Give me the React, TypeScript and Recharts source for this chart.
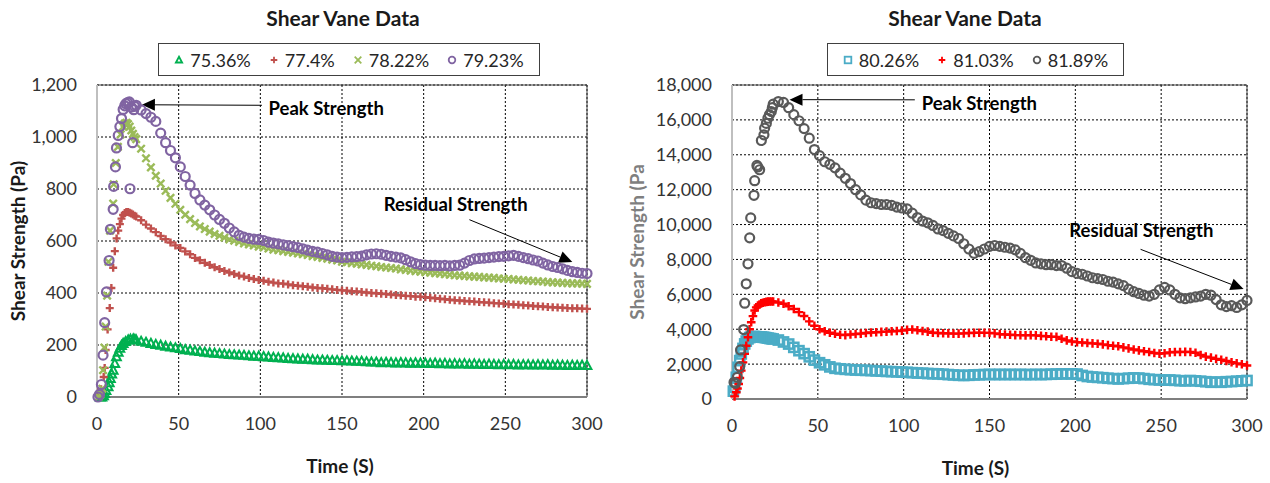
import React from "react";
import {
  ScatterChart,
  Scatter,
  XAxis,
  YAxis,
  CartesianGrid,
  ReferenceLine,
  ReferenceDot,
} from "recharts";

const FONT = "Lato, 'Open Sans', sans-serif";

// shared sampling times (s) after the first ~24 s
const timeGrid = [
  24, 27, 30, 33, 36, 39, 42, 45, 48, 51, 54, 57, 60, 63, 66, 69, 72, 75, 78, 81,
  84, 87, 90, 93, 96, 99, 102, 105, 108, 111, 114, 117, 120, 123, 126, 129, 132,
  135, 138, 141, 144, 147, 150, 153, 156, 159, 162, 165, 168, 171, 174, 177, 180,
  183, 186, 189, 192, 195, 198, 201, 204, 207, 210, 213, 216, 219, 222, 225, 228,
  231, 234, 237, 240, 243, 246, 249, 252, 255, 258, 261, 264, 267, 270, 273, 276,
  279, 282, 285, 288, 291, 294, 297, 300,
];

const xTicks = [0, 50, 100, 150, 200, 250, 300];
const yTicksLeft = [0, 200, 400, 600, 800, 1000, 1200];
const yTicksRight = [0, 2000, 4000, 6000, 8000, 10000, 12000, 14000, 16000, 18000];

// ---- left chart (Pa) ----
const early7536: [number, number][] = [
  [2, 0], [3, 0], [4, 5], [4.7, 13], [5.5, 25], [6.8, 39], [7.5, 55], [8.2, 71],
  [9, 88], [9.9, 103], [10.9, 129], [11.9, 155], [13, 172], [14, 187], [15, 198],
  [16, 206], [17.5, 213], [19.1, 219], [20.5, 222], [22.2, 223], [23.2, 221],
];
const v7536 = [
  219, 214, 210, 206, 202, 199, 195, 192, 189, 186, 182, 180, 177, 175, 172, 170,
  168, 167, 165, 163, 162, 161, 160, 158, 157, 157, 155, 154, 152, 151, 150, 148,
  147, 146, 145, 145, 143, 142, 142, 141, 140, 140, 139, 139, 138, 137, 137, 135,
  134, 134, 132, 133, 132, 131, 132, 131, 130, 131, 130, 130, 129, 130, 128, 129,
  127, 128, 127, 128, 126, 127, 126, 125, 126, 125, 124, 125, 124, 125, 123, 124,
  124, 123, 124, 123, 124, 122, 123, 122, 121, 122, 121, 122, 121,
];

const early774: [number, number][] = [
  [1.5, 13], [2.5, 30], [4.1, 77], [4.7, 112], [5.3, 181], [6.5, 260], [7.8, 342],
  [8.8, 419], [9.9, 497], [10.9, 561], [12, 610], [13, 640], [14, 665], [15, 686],
  [16, 700], [17, 708], [18, 712], [19, 712], [20, 709], [21, 706], [22, 702], [23, 697],
];
const v774 = [
  694, 680, 663, 648, 634, 619, 607, 594, 583, 573, 560, 549, 535, 526, 516, 508,
  499, 492, 485, 479, 473, 467, 463, 458, 454, 450, 447, 443, 440, 437, 436, 433,
  430, 428, 426, 424, 421, 419, 418, 416, 414, 412, 410, 409, 407, 406, 404, 402,
  400, 399, 397, 396, 394, 392, 391, 389, 388, 386, 386, 384, 382, 380, 378, 376,
  374, 372, 371, 369, 368, 367, 365, 364, 363, 361, 360, 359, 357, 356, 355, 353,
  352, 350, 349, 348, 346, 345, 344, 343, 342, 341, 341, 340, 339,
];

const early7822: [number, number][] = [
  [1, 0], [2, 10], [3.3, 32], [3.7, 103], [4.5, 190], [5.3, 271], [6.2, 390],
  [7, 520], [8, 640], [9.9, 744], [10.2, 818], [11.5, 900], [12.8, 962],
  [14.5, 1010], [16, 1040], [17, 1052], [18, 1055], [19, 1050], [20, 1040],
  [21, 1025], [22, 1012], [23, 1000],
];
const v7822 = [
  992, 955, 918, 883, 851, 821, 793, 766, 743, 720, 701, 684, 669, 656, 646, 636,
  627, 620, 613, 606, 601, 596, 591, 587, 583, 578, 575, 571, 567, 565, 561, 558,
  555, 552, 549, 546, 542, 539, 535, 532, 528, 525, 520, 518, 515, 513, 510, 508,
  505, 503, 500, 498, 496, 494, 491, 489, 486, 484, 482, 480, 478, 476, 474, 472,
  470, 468, 467, 466, 464, 463, 462, 460, 459, 458, 456, 455, 454, 452, 451, 449,
  448, 446, 445, 444, 442, 441, 440, 439, 438, 437, 437, 436, 435,
];

const early7923: [number, number][] = [
  [0.6, 0], [1.5, 10], [2.7, 48], [3.7, 161], [4.7, 286], [5.8, 404], [7.4, 525],
  [8.2, 645], [9.9, 722], [10.2, 810], [11.3, 885], [11.9, 958], [13, 1006],
  [14, 1040], [15, 1071], [16, 1106], [17, 1120], [17.7, 1128], [18.7, 1132],
  [19.8, 1135], [20.2, 801], [21, 1115], [21.8, 978], [22.5, 1105], [23, 1118],
];
const v7923 = [
  1122, 1104, 1090, 1076, 1060, 1015, 978, 948, 920, 885, 848, 815, 783, 758, 738,
  720, 700, 683, 668, 650, 635, 622, 615, 610, 607, 606, 602, 596, 592, 589, 585,
  582, 578, 575, 570, 565, 560, 557, 552, 547, 541, 538, 536, 537, 539, 540, 542,
  547, 550, 551, 549, 545, 541, 538, 535, 528, 520, 513, 509, 507, 506, 506, 505,
  506, 504, 506, 507, 515, 525, 531, 533, 534, 536, 538, 540, 541, 543, 545, 541,
  536, 532, 527, 523, 515, 508, 502, 498, 493, 487, 482, 479, 476, 475,
];

// ---- right chart (Pa) ----
const early8026: [number, number][] = [
  [0.8, 450], [1.6, 670], [2.5, 1244], [3.5, 1818], [4.5, 2200], [5.4, 2584],
  [6.4, 2900], [7.4, 3158], [8.3, 3320], [9.3, 3445], [10.3, 3520], [11.2, 3560],
  [12.2, 3579], [13.2, 3580], [14.1, 3570], [15.1, 3560], [16, 3555], [17, 3550],
  [18, 3540], [19, 3530], [20, 3510], [21, 3490], [22, 3470], [23, 3455],
];
const v8026 = [
  3440, 3380, 3270, 3150, 2960, 2770, 2600, 2420, 2230, 2080, 1960, 1840, 1760,
  1730, 1700, 1680, 1660, 1650, 1640, 1630, 1610, 1600, 1580, 1570, 1555, 1540,
  1530, 1510, 1490, 1480, 1460, 1450, 1440, 1420, 1400, 1380, 1360, 1350, 1360,
  1380, 1390, 1400, 1410, 1400, 1410, 1400, 1410, 1400, 1410, 1400, 1400, 1410,
  1400, 1410, 1420, 1430, 1440, 1440, 1440, 1430, 1350, 1290, 1260, 1240, 1220,
  1190, 1170, 1150, 1170, 1190, 1210, 1200, 1170, 1130, 1110, 1090, 1080, 1090,
  1070, 1050, 1040, 1060, 1040, 1020, 990, 960, 970, 960, 990, 1000, 1020, 1040, 1060,
];

const early8103: [number, number][] = [
  [1.5, 150], [2.5, 383], [3.2, 600], [3.9, 861], [4.6, 1200], [5.4, 1627],
  [6.4, 2100], [7.4, 2584], [8.3, 3050], [9.3, 3541], [10.2, 4000], [11.2, 4402],
  [12.2, 4750], [13.2, 5072], [14.1, 5250], [15.1, 5359], [16, 5420], [17, 5480],
  [18, 5520], [19, 5550], [20, 5570], [21, 5580], [22, 5590], [23, 5590],
];
const v8103 = [
  5589, 5530, 5460, 5320, 5160, 4980, 4760, 4450, 4200, 4000, 3880, 3800, 3740,
  3680, 3660, 3700, 3730, 3750, 3780, 3810, 3830, 3850, 3860, 3880, 3900, 3920,
  3960, 3980, 3940, 3900, 3860, 3800, 3780, 3770, 3760, 3750, 3750, 3760, 3780,
  3790, 3800, 3790, 3790, 3760, 3720, 3700, 3680, 3660, 3660, 3650, 3660, 3650,
  3620, 3600, 3570, 3560, 3450, 3360, 3300, 3260, 3240, 3210, 3190, 3170, 3130,
  3090, 3050, 3020, 2960, 2900, 2840, 2790, 2740, 2690, 2640, 2600, 2620, 2670,
  2690, 2690, 2700, 2690, 2650, 2520, 2430, 2370, 2300, 2250, 2180, 2110, 2040,
  1990, 1920,
];

const early8189: [number, number][] = [
  [1.2, 957], [2, 900], [3.1, 1244], [4.5, 1856], [5, 2813], [6.8, 3981],
  [7.4, 5493], [8.3, 6603], [9.3, 7751], [10.3, 9238], [10.9, 10381],
  [12.8, 11676], [13.2, 12514], [14.5, 13390], [15, 13300], [16.1, 13143],
  [17.1, 14819], [18.6, 15143], [19, 15524], [20, 15800], [20.9, 16095],
  [21.8, 16300], [22.9, 16476], [23.5, 16700],
];
const v8189 = [
  16900, 17050, 17000, 16700, 16300, 15950, 15500, 14950, 14300, 13950, 13600,
  13450, 13250, 12950, 12650, 12350, 12000, 11700, 11400, 11250, 11200, 11150,
  11150, 11100, 11000, 10950, 10900, 10650, 10400, 10200, 10100, 9950, 9750, 9650,
  9500, 9350, 9200, 8900, 8600, 8350, 8450, 8600, 8750, 8800, 8750, 8700, 8650,
  8550, 8350, 8100, 7950, 7800, 7750, 7700, 7700, 7650, 7650, 7500, 7300, 7200,
  7150, 7050, 6950, 6900, 6850, 6750, 6700, 6600, 6500, 6300, 6150, 6050, 5950,
  5900, 6000, 6250, 6400, 6250, 6000, 5800, 5750, 5800, 5850, 5900, 6000, 5950,
  5700, 5400, 5300, 5350, 5250, 5400, 5650,
];

const toPoints = (early: [number, number][], vals: number[]) => [
  ...early.map(([x, y]) => ({ x, y })),
  ...vals.map((y, i) => ({ x: timeGrid[i], y })),
];

// marker glyphs
type Mark = (cx: number, cy: number, s: number, w?: number) => React.ReactElement;
const triangle = (c: string): Mark => (cx, cy, s, w = 2) => (
  <path
    d={`M${cx},${cy - s}L${cx + s * 0.95},${cy + s * 0.75}L${cx - s * 0.95},${cy + s * 0.75}Z`}
    fill="none"
    stroke={c}
    strokeWidth={w}
  />
);
const plus = (c: string): Mark => (cx, cy, s, w = 2.4) => (
  <path d={`M${cx - s},${cy}H${cx + s}M${cx},${cy - s}V${cy + s}`} stroke={c} strokeWidth={w} />
);
const cross = (c: string): Mark => (cx, cy, s, w = 2.4) => (
  <path
    d={`M${cx - s},${cy - s}L${cx + s},${cy + s}M${cx - s},${cy + s}L${cx + s},${cy - s}`}
    stroke={c}
    strokeWidth={w}
  />
);
const ring = (c: string): Mark => (cx, cy, s, w = 2.2) => (
  <circle cx={cx} cy={cy} r={s} fill="none" stroke={c} strokeWidth={w} />
);
const square = (c: string): Mark => (cx, cy, s, w = 2.5) => (
  <rect x={cx - s} y={cy - s} width={2 * s} height={2 * s} fill="none" stroke={c} strokeWidth={w} />
);

const arrow = (p: any) => {
  const { x1, y1, x2, y2 } = p;
  const a = Math.atan2(y2 - y1, x2 - x1);
  const L = 13;
  const W = 6;
  const bx = x2 - L * Math.cos(a);
  const by = y2 - L * Math.sin(a);
  const px = -Math.sin(a) * W;
  const py = Math.cos(a) * W;
  return (
    <g>
      <line x1={x1} y1={y1} x2={bx} y2={by} stroke="#000" strokeWidth={1} />
      <path d={`M${x2},${y2}L${bx + px},${by + py}L${bx - px},${by - py}Z`} fill="#000" />
    </g>
  );
};

const note = (text: string) => (p: any) => (
  <text
    x={p.cx}
    y={p.cy}
    dy="0.36em"
    fill="#000"
    style={{ fontFamily: FONT, fontSize: 18.5, fontWeight: 700 }}
  >
    {text}
  </text>
);

const fmt = (v: number) => v.toLocaleString("en-US");

function LegendBox({ left, width, items }: any) {
  return (
    <div
      style={{
        position: "absolute",
        left,
        top: 43,
        width,
        height: 33,
        boxSizing: "border-box",
        border: "1px solid #404040",
        display: "flex",
        alignItems: "center",
        justifyContent: "center",
        gap: 18,
        fontFamily: FONT,
        fontSize: 18,
        color: "#262626",
      }}
    >
      {items.map((s: any) => (
        <span key={s.name} style={{ display: "flex", alignItems: "center", gap: 6 }}>
          <svg width={10} height={10}>
            {s.mark(5, 5, 3.3, 1.8)}
          </svg>
          {s.name}
        </span>
      ))}
    </div>
  );
}

function Panel(p: any) {
  const tickStyle = { fill: "#333", fontSize: 18, fontFamily: FONT };
  return (
    <div style={{ position: "absolute", left: p.left, top: 0, width: p.width, height: 483 }}>
      <div
        style={{
          position: "absolute",
          left: p.titleX - 150,
          width: 300,
          top: 6,
          textAlign: "center",
          fontFamily: FONT,
          fontWeight: 700,
          fontSize: 21,
          lineHeight: "24px",
          color: "#1a1a1a",
        }}
      >
        Shear Vane Data
      </div>
      <LegendBox left={p.legendLeft} width={p.legendWidth} items={p.series} />
      <ScatterChart width={p.width} height={483} margin={p.margin}>
        <CartesianGrid stroke="#000" strokeDasharray="2 2" />
        <XAxis
          type="number"
          dataKey="x"
          domain={[0, 300]}
          ticks={xTicks}
          tickSize={0}
          tickMargin={20}
          height={80}
          tick={tickStyle}
          axisLine={{ stroke: "#7f7f7f", strokeWidth: 2 }}
          label={{
            value: "Time (S)",
            position: "insideBottom",
            offset: 4,
            dx: p.xLabelDx,
            style: { fontFamily: FONT, fontSize: 19, fontWeight: 700, fill: "#1a1a1a" },
          }}
        />
        <YAxis
          type="number"
          dataKey="y"
          domain={[0, p.yMax]}
          ticks={p.yTicks}
          tickFormatter={fmt}
          tickSize={0}
          tickMargin={20}
          width={p.yAxisWidth}
          tick={tickStyle}
          axisLine={{ stroke: "#bfbfbf", strokeWidth: 2 }}
          label={{
            value: p.yLabel,
            angle: -90,
            position: "insideLeft",
            offset: p.yLabelOffset,
            style: {
              textAnchor: "middle",
              fontFamily: FONT,
              fontSize: 19,
              fontWeight: 700,
              fill: p.yLabelColor,
            },
          }}
        />
        <ReferenceLine y={p.yMax} stroke="#404040" strokeWidth={1} />
        <ReferenceLine x={300} stroke="#404040" strokeWidth={1} />
        {p.series.map((s: any) => (
          <Scatter
            key={s.name}
            name={s.name}
            data={s.data}
            isAnimationActive={false}
            shape={(d: any) => s.mark(d.cx, d.cy, s.size)}
          />
        ))}
        {p.notes.map((n: any) => (
          <ReferenceLine
            key={n.text + "-arrow"}
            segment={[
              { x: n.from[0], y: n.from[1] },
              { x: n.to[0], y: n.to[1] },
            ]}
            shape={arrow}
          />
        ))}
        {p.notes.map((n: any) => (
          <ReferenceDot key={n.text} x={n.at[0]} y={n.at[1]} r={1} shape={note(n.text)} />
        ))}
      </ScatterChart>
    </div>
  );
}

const leftSeries = [
  { name: "75.36%", mark: triangle("#00b050"), size: 4.6, data: toPoints(early7536, v7536) },
  { name: "77.4%", mark: plus("#c0504d"), size: 4, data: toPoints(early774, v774) },
  { name: "78.22%", mark: cross("#9bbb59"), size: 3.7, data: toPoints(early7822, v7822) },
  { name: "79.23%", mark: ring("#8064a2"), size: 4.5, data: toPoints(early7923, v7923) },
];

const rightSeries = [
  { name: "80.26%", mark: square("#4bacc6"), size: 4.6, data: toPoints(early8026, v8026) },
  { name: "81.03%", mark: plus("#ff0000"), size: 4.3, data: toPoints(early8103, v8103) },
  { name: "81.89%", mark: ring("#595959"), size: 4.5, data: toPoints(early8189, v8189) },
];

const leftNotes = [
  { text: "Peak Strength", at: [105, 1110], from: [101, 1122], to: [27.5, 1124] },
  { text: "Residual Strength", at: [175.5, 742], from: [228, 682], to: [291, 519] },
];
const rightNotes = [
  { text: "Peak Strength", at: [110.5, 16970], from: [106.5, 17150], to: [33.5, 17160] },
  { text: "Residual Strength", at: [196.5, 9660], from: [238, 8580], to: [298, 6300] },
];

export default function App() {
  return (
    <div
      style={{
        position: "absolute",
        left: 0,
        top: 0,
        width: 1270,
        height: 483,
        background: "#fff",
        overflow: "hidden",
      }}
    >
      <Panel
        left={0}
        width={620}
        margin={{ top: 85, right: 33, bottom: 6, left: 0 }}
        yAxisWidth={97}
        yMax={1200}
        yTicks={yTicksLeft}
        yLabel="Shear  Strength (Pa)"
        yLabelColor="#1a1a1a"
        yLabelOffset={18}
        xLabelDx={-2}
        titleX={343}
        legendLeft={158}
        legendWidth={382}
        series={leftSeries}
        notes={leftNotes}
      />
      <Panel
        left={620}
        width={650}
        margin={{ top: 85, right: 23, bottom: 4, left: 0 }}
        yAxisWidth={112}
        yMax={18000}
        yTicks={yTicksRight}
        yLabel="Shear  Strength (Pa"
        yLabelColor="#7f7f7f"
        yLabelOffset={17}
        xLabelDx={-14}
        titleX={345}
        legendLeft={207}
        legendWidth={297}
        series={rightSeries}
        notes={rightNotes}
      />
    </div>
  );
}
